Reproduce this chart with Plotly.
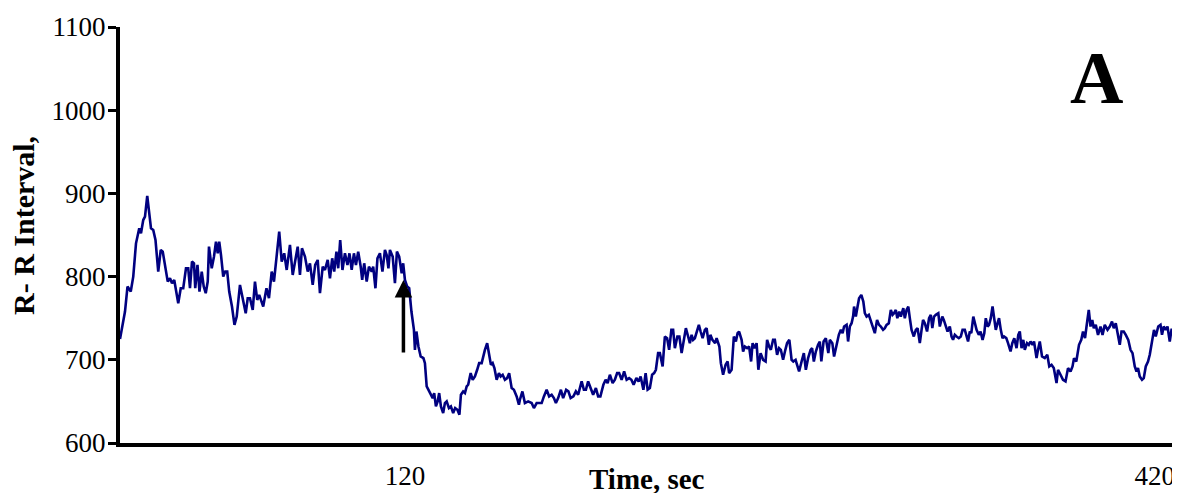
import plotly.graph_objects as go

# time (sec) and R-R interval (ms)
time_sec = [
    6.0, 8.0, 9.0, 10.3, 11.3, 12.4, 13.7, 14.4, 15.3, 16.0, 16.9, 17.7, 18.4, 19.3, 20.2,
    21.3, 22.3, 23.1, 24.0, 25.1, 26.0, 26.8, 27.7, 28.4, 29.3, 30.3, 31.3, 32.4, 33.3, 34.0,
    34.8, 35.6, 36.1, 37.0, 37.8, 38.7, 39.5, 40.3, 41.1, 41.6, 42.7, 43.6, 44.4, 45.1, 45.7,
    46.4, 47.3, 48.1, 48.9, 49.7, 50.8, 51.8, 52.7, 54.0, 54.9, 56.3, 57.1,
    58.0, 59.1, 60.0, 60.9, 61.7, 63.3, 64.6, 65.6, 66.7, 67.6, 68.7, 69.7, 70.7, 71.7, 72.7,
    74.0, 75.1, 76.0, 77.1, 78.0, 78.8, 80.0, 81.1, 82.0, 83.1, 84.1, 85.1, 86.0, 87.1, 88.0,
    89.1, 90.0, 90.9, 91.7, 92.6, 93.3, 94.1, 95.0, 96.0, 97.0, 97.8, 98.7, 99.6, 100.4, 101.3,
    102.3, 102.9, 103.7, 104.7, 105.6, 106.7, 107.3, 108.2, 109.0, 110.0, 111.0, 112.0, 112.7,
    113.4, 114.0, 115.1, 116.0, 116.8, 117.7, 118.7, 119.3, 120.0, 120.9, 121.7,
    122.6, 123.6, 124.0, 124.6, 125.4, 126.3, 127.4, 128.0, 128.7, 129.7, 130.4, 131.1, 131.7,
    132.4, 133.1, 133.7, 134.4, 135.3, 136.0, 136.7, 137.6, 138.4, 139.3, 140.1, 141.0, 141.8,
    142.4, 143.3, 144.0, 144.7, 145.3, 146.3, 147.1, 148.0, 148.9, 149.7, 150.7, 151.3, 152.0,
    152.9, 153.7, 154.4, 155.1, 155.8, 156.7, 157.6, 158.3, 159.1, 160.0, 160.9, 161.7, 162.7,
    163.6, 164.7, 165.6,
    166.0, 167.0, 168.0, 169.3, 170.7, 171.6, 172.7, 173.6, 174.7, 175.6, 176.7, 177.7, 178.7,
    179.6, 180.4, 181.3, 182.4, 183.3, 184.5, 185.4, 186.3, 187.4, 188.4, 189.3, 190.7, 191.6,
    192.4, 193.3, 194.3, 195.3, 196.4, 197.3, 198.2, 199.4, 200.3, 201.1, 202.0, 203.1, 204.0,
    204.9, 205.7, 206.7, 207.7, 208.7, 209.7, 210.6, 211.5, 212.6, 213.5, 214.3, 215.4, 216.3,
    217.1, 218.0, 218.9, 219.7, 220.4, 221.3,
    222.0, 223.1, 224.0, 224.9, 225.7, 226.6, 227.3, 228.0, 229.0, 229.8, 230.7, 231.6, 232.4,
    233.3, 234.0, 234.7, 235.3, 236.0, 236.7, 237.6, 238.3, 239.1, 240.0, 240.7, 241.6, 242.2,
    243.0, 244.1, 244.7, 245.8, 246.4, 247.3, 248.3, 249.1, 249.7, 250.7, 251.6, 252.4, 253.1,
    253.7, 254.7, 255.3, 256.0, 256.9, 257.7, 258.5, 259.1, 259.8, 260.7, 261.4, 262.3, 263.3,
    264.3, 264.9, 265.7, 266.4, 267.3, 268.0, 268.9, 269.7, 270.4, 271.3, 272.2, 272.9, 273.8,
    274.7, 275.4, 276.3, 276.9, 277.7, 278.7, 279.6, 280.4, 281.3, 282.3, 282.9, 283.6, 284.4,
    285.3, 286.0, 286.6, 287.5, 288.4, 289.4, 290.0, 291.0, 291.7, 292.7, 293.6, 294.4, 295.1,
    295.7, 296.7, 297.3, 298.0, 298.7, 299.3, 299.7, 300.4, 301.1, 301.7, 302.6, 303.4, 304.0,
    304.7, 305.6, 306.3, 307.1, 308.0, 308.9, 309.7, 310.4, 311.3, 312.0, 312.7, 313.6, 314.4,
    315.1, 315.7, 316.4, 317.0, 317.8, 318.4, 319.4, 320.0, 320.7, 321.4, 322.0, 322.7, 323.6,
    324.4, 325.1,
    326.0, 326.7, 327.3, 328.0, 328.9, 329.7, 330.4, 331.0, 331.7, 332.4, 333.4, 334.0, 335.0,
    335.6, 336.3, 337.1, 338.0, 338.7, 339.3, 340.0, 340.7, 341.6, 342.4, 343.1, 344.0, 344.6,
    345.3, 346.0, 346.6, 347.4, 348.1, 348.7, 349.6, 350.3, 351.1, 351.8, 352.4, 353.1, 353.7,
    354.4, 355.1, 355.7, 356.4, 357.1, 357.7, 358.4, 359.1, 359.7, 360.6, 361.3, 362.3, 363.0,
    363.8, 364.7, 365.4, 366.0, 366.7, 367.4, 368.0, 368.9, 369.6, 370.3, 371.1, 371.7, 372.7,
    373.3, 374.0,
    374.9, 376.0, 377.0, 377.8, 378.7, 379.6, 380.7, 381.3, 382.3, 383.3, 384.3, 385.3, 386.3,
    387.1, 387.7, 388.6, 389.7, 390.6, 391.3, 392.1, 392.7, 393.6, 394.3, 395.0, 395.6, 396.4,
    397.3, 398.3, 399.1, 400.0, 401.1, 402.0, 402.9, 403.6, 404.4, 405.1, 406.0, 406.7, 407.6,
    408.4, 409.4, 410.3, 411.1, 412.0, 412.7, 413.3, 414.0, 414.9, 415.6, 416.4, 417.3, 418.0,
    419.0, 419.7, 420.4, 421.4, 422.3, 422.9, 423.6, 424.4, 425.1, 426.0, 426.7, 427.3,
]

rr_ms = [
    725, 758, 788, 782, 800, 840, 858, 852, 868, 872, 897, 876, 858, 856, 844,
    806, 832, 830, 812, 794, 798, 792, 796, 784, 768, 786, 786, 810, 810, 786,
    818, 816, 786, 814, 782, 806, 788, 780, 794, 836, 810, 824, 842, 828, 842,
    826, 800, 806, 806, 782, 764, 742, 752, 790, 778, 756, 774,
    774, 760, 794, 772, 778, 764, 786, 774, 806, 794, 828, 854, 818, 828, 808,
    838, 802, 820, 836, 802, 834, 824, 806, 816, 790, 814, 820, 780, 812, 808,
    820, 798, 822, 806, 830, 810, 844, 808, 828, 814, 828, 808, 828, 814, 830,
    812, 796, 816, 794, 812, 806, 812, 786, 822, 828, 806, 832, 826,
    810, 832, 824, 792, 830, 824, 804, 816, 796, 788, 786,
    758, 736, 712, 734, 716, 704, 702, 696, 668, 662, 658, 654, 660,
    644, 650, 660, 644, 636, 648, 650, 642, 644, 636, 642, 640, 634,
    658, 662, 660, 668, 670, 684, 676, 680, 688, 696, 696, 704, 712,
    720, 708, 694, 696, 690, 676, 684, 680, 682, 676, 678, 684, 666,
    664, 656, 646,
    652, 662, 648, 650, 648, 642, 648, 648, 648, 656, 664, 656, 658,
    654, 648, 654, 664, 654, 664, 662, 654, 656, 662, 658, 674, 664,
    664, 674, 666, 658, 666, 656, 656, 670, 676, 672, 682, 672, 676,
    684, 684, 676, 686, 676, 678, 676, 670, 678, 674, 680, 664, 684,
    664, 666, 682, 684, 688, 708,
    708, 692, 728, 726, 712, 736, 736, 714, 728, 728, 708, 726, 738,
    728, 720, 730, 724, 726, 734, 742, 734, 726, 736, 738, 718, 730,
    724, 720, 726, 716, 696, 682, 694, 698, 684, 688, 728, 722, 732,
    734, 724, 710, 716, 714, 716, 698, 720, 714, 720, 688, 708, 700,
    698, 724, 716, 712, 724, 724, 706, 714, 712, 700, 712, 720, 724,
    700, 698, 700, 694, 686, 698, 708, 688, 702, 712, 714, 698, 710,
    718, 722, 698, 722, 726, 708, 724, 720, 704, 720, 730, 736, 732,
    740, 742, 722, 740, 744, 752, 764, 752, 764, 774, 778, 770, 756,
    752, 754, 748, 742, 732, 748, 742, 740, 736, 738, 742, 744, 760,
    754, 756, 760, 750, 758, 752, 762, 750, 760, 764, 750, 736, 728,
    736, 738,
    720, 736, 748, 744, 734, 750, 754, 738, 752, 754, 756, 740, 752,
    748, 740, 734, 740, 728, 724, 730, 728, 726, 728, 736, 736, 730,
    722, 734, 732, 752, 744, 736, 730, 734, 724, 732, 750, 740, 742,
    750, 764, 752, 736, 744, 750, 736, 726, 728, 726, 720, 710, 720,
    726, 714, 730, 734, 714, 724, 712, 720, 718, 722, 718, 722, 702,
    712, 722,
    704, 702, 706, 692, 694, 690, 672, 688, 682, 676, 674, 690, 686,
    692, 702, 698, 718, 724, 734, 726, 740, 760, 740, 748, 738, 742,
    730, 740, 730, 742, 736, 740, 746, 738, 744, 730, 718, 734, 734,
    730, 724, 712, 708, 692, 686, 690, 680, 676, 678, 692, 698, 706,
    726, 736, 728, 740, 742, 730, 740, 736, 740, 722, 736, 736,
]

x_ticks = [120, 420]
y_ticks = [600, 700, 800, 900, 1000, 1100]

serif = "Liberation Serif, Times New Roman, serif"

fig = go.Figure()
fig.add_trace(go.Scatter(x=time_sec, y=rr_ms, mode="lines",
                         line=dict(color="#000080", width=2.6),
                         showlegend=False))

# arrow marking the intervention
fig.add_annotation(x=119.4, y=796, ax=119.4, ay=707, xref="x", yref="y",
                   axref="x", ayref="y", showarrow=True, arrowhead=2,
                   arrowsize=1, arrowwidth=3.5, arrowcolor="black", text="")

# panel letter
fig.add_annotation(x=0.927, y=0.877, xref="paper", yref="paper", text="<b>A</b>",
                   xanchor="center", yanchor="middle", showarrow=False,
                   font=dict(family=serif, size=74, color="black"))

# axis titles
fig.add_annotation(x=0.5, y=-0.086, xref="paper", yref="paper", text="<b>Time, sec</b>",
                   xanchor="center", yanchor="middle", showarrow=False,
                   font=dict(family=serif, size=29, color="black"))
fig.add_annotation(x=-0.091, y=0.522, xref="paper", yref="paper",
                   text="<b>R- R Interval,</b>", textangle=-90,
                   xanchor="center", yanchor="middle", showarrow=False,
                   font=dict(family=serif, size=30, color="black"))

# page body has an 8px margin, so the figure is sized to fit the window
fig.update_layout(
    width=1172, height=485,
    margin=dict(l=112, r=7, t=19, b=50),
    paper_bgcolor="white", plot_bgcolor="white",
    font=dict(family=serif, size=27, color="black"),
    xaxis=dict(range=[6.0, 427.3], tickvals=x_ticks, ticktext=[str(v) for v in x_ticks],
               showgrid=False, zeroline=False, showline=True, linecolor="black",
               linewidth=4, ticks="outside", ticklen=6, tickcolor="rgba(0,0,0,0)",
               tickfont=dict(family=serif, size=27), automargin=False,
               ticklabeloverflow="allow"),
    yaxis=dict(range=[600, 1100], tickvals=y_ticks, showgrid=False, zeroline=False,
               showline=True, linecolor="black", linewidth=4, ticks="outside",
               ticklen=8, tickwidth=3, tickcolor="black", ticklabelstandoff=-3,
               tickfont=dict(family=serif, size=27), automargin=False),
)

fig.write_html("out.html")
